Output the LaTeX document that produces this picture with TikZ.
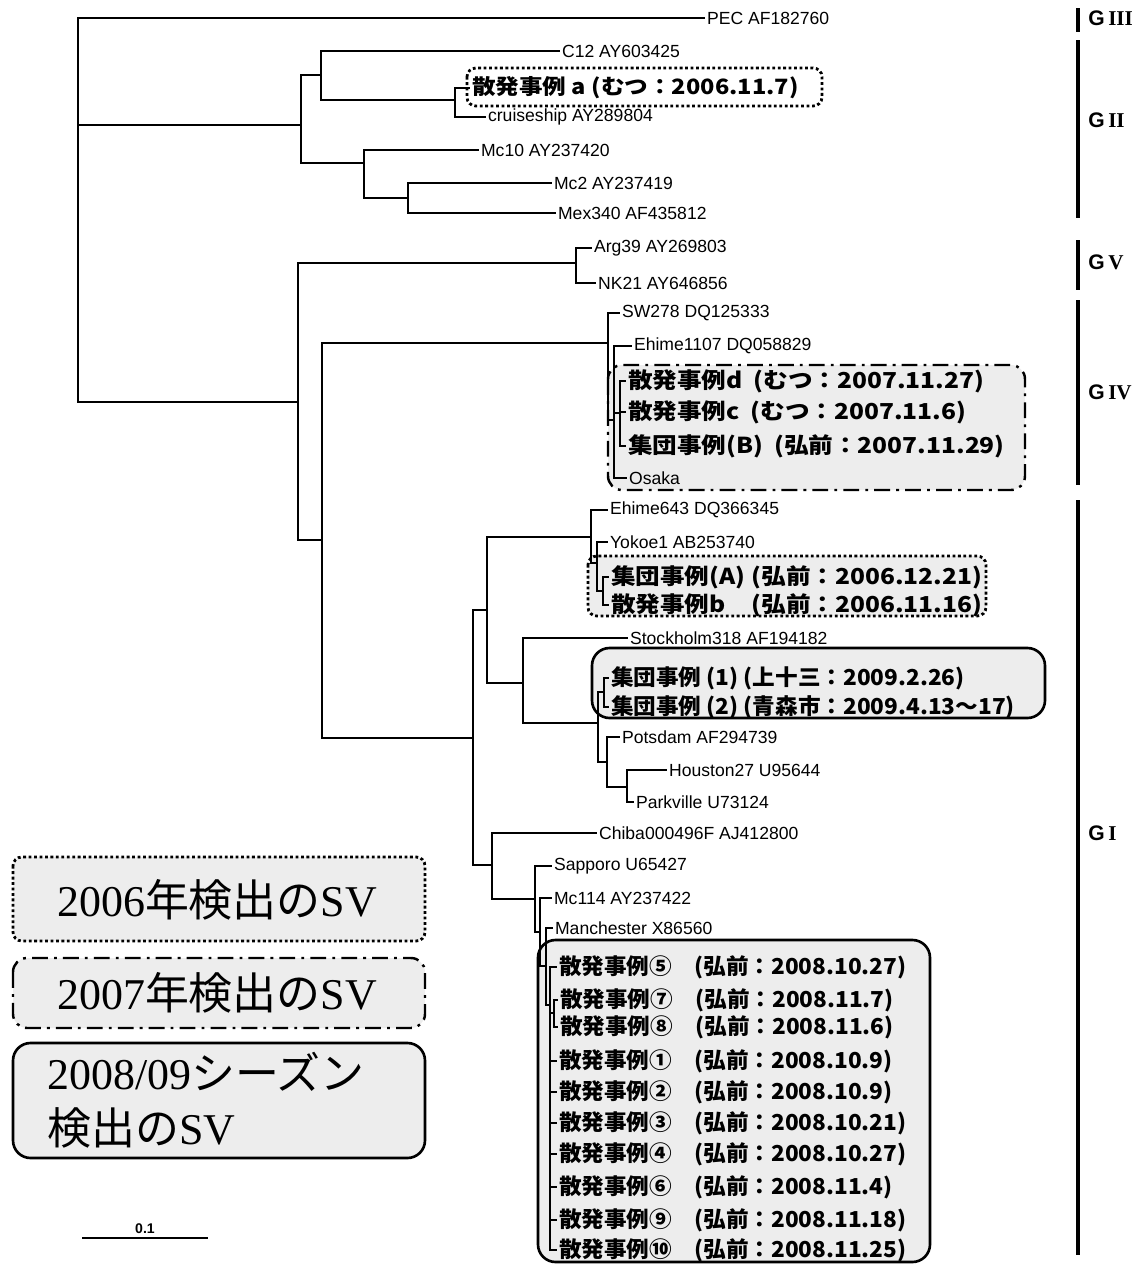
\documentclass[tikz,border=0pt]{standalone}
\usepackage{fontspec}
\setmainfont{Liberation Sans}
\newfontfamily\jpfont[FakeStretch=1.12]{Noto Sans CJK JP}
\newfontfamily\jpnarrow[FakeStretch=1.03]{Noto Sans CJK JP}
\newfontfamily\jplegend{Noto Sans CJK JP}
\newfontfamily\serfont{Liberation Serif}
\tikzset{leaf/.style={anchor=west, inner sep=1pt, font=\fontsize{10}{12}\selectfont},
  jleaf/.style={anchor=west, inner sep=1pt, font=\jpfont\bfseries\fontsize{12.5}{14}\selectfont},
  jnarrow/.style={anchor=west, inner sep=1pt, font=\jpnarrow\bfseries\fontsize{12.5}{14}\selectfont},
  box06/.style={draw, line width=1.6pt, dash pattern=on 1.6pt off 1.5pt, rounded corners=5pt},
  box07/.style={draw, line width=1.4pt, dash pattern=on 9pt off 3.5pt on 1.6pt off 3.5pt,
    rounded corners=8pt, fill=black!7},
  box08/.style={draw, line width=1.5pt, rounded corners=10pt, fill=black!7},
  gbar/.style={line width=2.4pt},
  glbl/.style={anchor=west, inner sep=0pt, font=\bfseries\fontsize{12}{14}\selectfont},
  lgd/.style={inner sep=0pt, font=\serfont\fontsize{25}{31}\selectfont}}
\newcommand{\hiro}[2]{\makebox[77pt][l]{散発事例#1}(弘前：#2)}

\begin{document}
\begin{tikzpicture}[x=0.02cm, y=-0.02cm, br/.style={line width=1.1pt}]
  \useasboundingbox (0,0) rectangle (1133,1269);

  % boxes round the case groups
  \draw[box06] (467,68) rectangle (822,106);
  \draw[box07] (608,365) rectangle (1025,490);
  \draw[box06, fill=black!7] (588,556) rectangle (986,616);
  \draw[box08] (592,648) rectangle (1045,718);
  \draw[box08] (538,940) rectangle (930,1262);

  % inner nodes of the tree
  \coordinate (root)  at (78,210);
  \coordinate (gii)   at (301,125);
  \coordinate (g2a)   at (321,75);
  \coordinate (g2a1)  at (455,100);
  \coordinate (g2b)   at (364,163);
  \coordinate (g2b1)  at (408,198);
  \coordinate (nodeA) at (298,402);
  \coordinate (gv)    at (576,263);
  \coordinate (nodeB) at (322,540);
  \coordinate (giv)   at (608,343);
  \coordinate (giv1)  at (614,420);
  \coordinate (giv2)  at (620,413);
  \coordinate (gi)    at (473,738);
  \coordinate (gi1)   at (487,610);
  \coordinate (gi1a)  at (591,537);
  \coordinate (gi1a1) at (597,563);
  \coordinate (gi1a2) at (603,591);
  \coordinate (gi1b)  at (523,683);
  \coordinate (gi1b1) at (598,723);
  \coordinate (gi1b2) at (604,692);
  \coordinate (gi1b3) at (607,762);
  \coordinate (gi1b4) at (627,787);
  \coordinate (gi2)   at (492,865);
  \coordinate (gi2a)  at (535,899);
  \coordinate (gi2b)  at (540,932);
  \coordinate (gi2c)  at (546,966);
  \coordinate (gi2d)  at (550,1005);
  \coordinate (g78)   at (554,1013);

  % strains
  \node[leaf] (pec)    at (705,18)  {PEC AF182760};
  \node[leaf] (c12)    at (560,51)  {C12 AY603425};
  \node[jleaf, font=\jpfont\bfseries\fontsize{12}{14}\selectfont] (sa) at (470,88)
    {散発事例 a (むつ：2006.11.7)};
  \node[leaf] (cruise) at (486,117) {cruiseship AY289804};
  \node[leaf] (mc10)   at (479,150) {Mc10 AY237420};
  \node[leaf] (mc2)    at (552,183) {Mc2 AY237419};
  \node[leaf] (mex)    at (556,213) {Mex340 AF435812};
  \node[leaf] (arg)    at (592,248) {Arg39 AY269803};
  \node[leaf] (nk)     at (596,283) {NK21 AY646856};
  \node[leaf] (sw)     at (620,313) {SW278 DQ125333};
  \node[leaf] (eh1107) at (632,346) {Ehime1107 DQ058829};
  \node[jleaf] (sd)    at (626,381) {散発事例d\enspace(むつ：2007.11.27)};
  \node[jleaf] (sc)    at (626,412) {散発事例c\enspace(むつ：2007.11.6)};
  \node[jleaf] (gb)    at (626,446) {集団事例(B)\enspace(弘前：2007.11.29)};
  \node[leaf] (osaka)  at (627,478) {Osaka};
  \node[leaf] (eh643)  at (608,510) {Ehime643 DQ366345};
  \node[leaf] (yok)    at (608,542) {Yokoe1 AB253740};
  \node[jleaf] (ga)    at (609,577) {\makebox[80pt][l]{集団事例(A)}(弘前：2006.12.21)};
  \node[jleaf] (sb)    at (609,605) {\makebox[80pt][l]{散発事例b}(弘前：2006.11.16)};
  \node[leaf] (sto)    at (628,638) {Stockholm318 AF194182};
  \node[jnarrow] (g1)  at (609,678) {集団事例 (1) (上十三：2009.2.26)};
  \node[jnarrow] (g2)  at (609,707) {集団事例 (2) (青森市：2009.4.13～17)};
  \node[leaf] (pots)   at (620,737) {Potsdam AF294739};
  \node[leaf] (hou)    at (667,770) {Houston27 U95644};
  \node[leaf] (park)   at (634,802) {Parkville U73124};
  \node[leaf] (chiba)  at (597,833) {Chiba000496F AJ412800};
  \node[leaf] (sap)    at (552,866) {Sapporo U65427};
  \node[leaf] (mc114)  at (552,898) {Mc114 AY237422};
  \node[leaf] (man)    at (553,928) {Manchester X86560};
  \node[jnarrow] (s5)  at (557,967)  {\hiro{⑤}{2008.10.27}};
  \node[jnarrow] (s7)  at (558,1000) {\hiro{⑦}{2008.11.7}};
  \node[jnarrow] (s8)  at (558,1027) {\hiro{⑧}{2008.11.6}};
  \node[jnarrow] (s1)  at (557,1061) {\hiro{①}{2008.10.9}};
  \node[jnarrow] (s2)  at (557,1092) {\hiro{②}{2008.10.9}};
  \node[jnarrow] (s3)  at (557,1123) {\hiro{③}{2008.10.21}};
  \node[jnarrow] (s4)  at (557,1154) {\hiro{④}{2008.10.27}};
  \node[jnarrow] (s6)  at (557,1187) {\hiro{⑥}{2008.11.4}};
  \node[jnarrow] (s9)  at (557,1220) {\hiro{⑨}{2008.11.18}};
  \node[jnarrow] (s10) at (557,1250) {\hiro{⑩}{2008.11.25}};

  % branches
  \draw[br] (root) |- (pec) (root) |- (gii) (root) |- (nodeA);
  \draw[br] (gii) |- (g2a) (gii) |- (g2b);
  \draw[br] (g2a) |- (c12) (g2a) |- (g2a1);
  \draw[br] (g2a1) |- (sa) (g2a1) |- (cruise);
  \draw[br] (g2b) |- (mc10) (g2b) |- (g2b1);
  \draw[br] (g2b1) |- (mc2) (g2b1) |- (mex);
  \draw[br] (nodeA) |- (gv) (nodeA) |- (nodeB);
  \draw[br] (gv) |- (arg) (gv) |- (nk);
  \draw[br] (nodeB) |- (giv) (nodeB) |- (gi);
  \draw[br] (giv) |- (sw) (giv) |- (giv1);
  \draw[br] (giv1) |- (eh1107) (giv1) |- (giv2) (giv1) |- (osaka);
  \draw[br] (giv2) |- (sd) (giv2) |- (sc) (giv2) |- (gb);
  \draw[br] (gi) |- (gi1) (gi) |- (gi2);
  \draw[br] (gi1) |- (gi1a) (gi1) |- (gi1b);
  \draw[br] (gi1a) |- (eh643) (gi1a) |- (gi1a1);
  \draw[br] (gi1a1) |- (yok) (gi1a1) |- (gi1a2);
  \draw[br] (gi1a2) |- (ga) (gi1a2) |- (sb);
  \draw[br] (gi1b) |- (sto) (gi1b) |- (gi1b1);
  \draw[br] (gi1b1) |- (gi1b2) (gi1b1) |- (gi1b3);
  \draw[br] (gi1b2) |- (g1) (gi1b2) |- (g2);
  \draw[br] (gi1b3) |- (pots) (gi1b3) |- (gi1b4);
  \draw[br] (gi1b4) |- (hou) (gi1b4) |- (park);
  \draw[br] (gi2) |- (chiba) (gi2) |- (gi2a);
  \draw[br] (gi2a) |- (sap) (gi2a) |- (gi2b);
  \draw[br] (gi2b) |- (mc114) (gi2b) |- (gi2c);
  \draw[br] (gi2c) |- (man) (gi2c) |- (gi2d);
  \foreach \c in {s5,g78,s1,s2,s3,s4,s6,s9,s10}
    \draw[br] (gi2d) |- (\c);
  \draw[br] (g78) |- (s7) (g78) |- (s8);

  % genogroups
  \draw[gbar] (1078,8) -- (1078,32);
  \draw[gbar] (1078,40) -- (1078,218);
  \draw[gbar] (1078,240) -- (1078,290);
  \draw[gbar] (1078,300) -- (1078,485);
  \draw[gbar] (1078,500) -- (1078,1255);
  \node[glbl] (lg3) at (1088,18)  {G\,{\serfont III}};
  \node[glbl] (lg2) at (1088,120) {G\,{\serfont II}};
  \node[glbl] (lg5) at (1088,262) {G\,{\serfont V}};
  \node[glbl] (lg4) at (1088,392) {G\,{\serfont IV}};
  \node[glbl] (lg1) at (1088,833) {G\,{\serfont I}};

  % legend
  \draw[box06, fill=black!7] (13,857) rectangle (425,941);
  \draw[box07] (13,958) rectangle (425,1028);
  \draw[box08] (13,1043) rectangle (425,1158);
  \node[lgd] (l06) at (217,900) {2006{\jplegend 年検出の}SV};
  \node[lgd] (l07) at (217,993) {2007{\jplegend 年検出の}SV};
  \node[lgd, anchor=west, align=left] (l08) at (47,1100)
    {2008/09{\jplegend シーズン}\\{\jplegend 検出の}SV};

  % scale bar
  \draw[line width=1pt] (82,1238) -- node[above=1pt, inner sep=1pt,
    font=\bfseries\fontsize{8}{9}\selectfont] (sbl) {0.1} (208,1238);
\end{tikzpicture}
\end{document}
